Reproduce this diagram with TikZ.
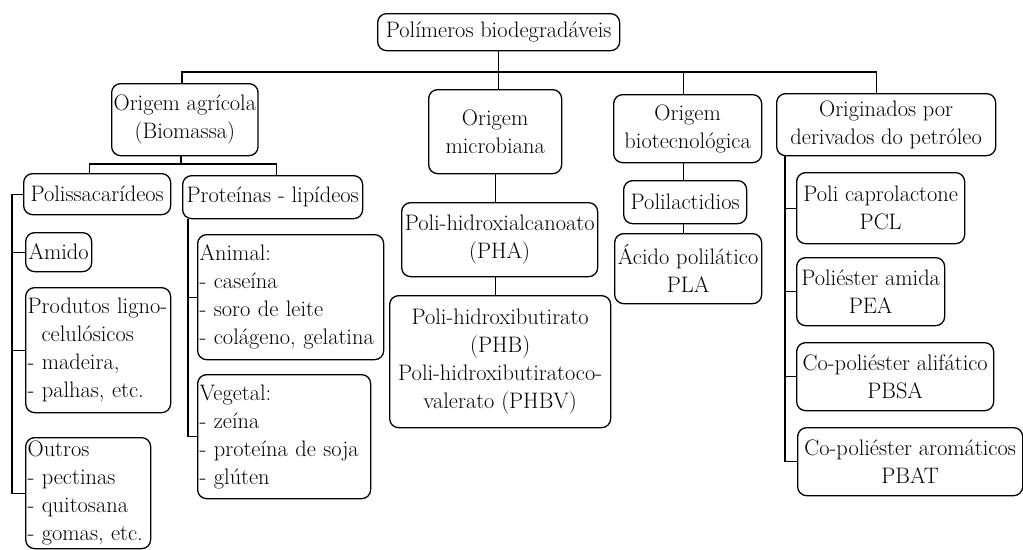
\documentclass[tikz,border=0pt]{standalone}
\tikzset{
  box/.style={draw, rounded corners=9pt, line width=1.3pt, inner xsep=2pt, inner ysep=1pt,
    font=\fontsize{22.4}{28}\selectfont},
  conn/.style={line width=1.3pt}
}
% centred box: fixed outer size, natural lines
\newcommand\cbox[6]{%
  \pgfmathsetmacro\bxw{#4-#2}\pgfmathsetmacro\bxh{#5-#3}%
  \node[box, anchor=north west, minimum width=\bxw pt, minimum height=\bxh pt, align=center] (#1) at (#2,#3) {#6};}
% left-aligned box
\newcommand\lbox[6]{%
  \pgfmathsetmacro\bxw{#4-#2-4}\pgfmathsetmacro\bxh{#5-#3}%
  \node[box, anchor=north west, text width=\bxw pt, minimum height=\bxh pt, align=left] (#1) at (#2,#3) {#6};}
\begin{document}
\begin{tikzpicture}[x=1pt,y=-1pt]
\useasboundingbox (0,0) rectangle (1023,549);
\fill[white] (0,0) rectangle (1023,549);
% top
\cbox{top}{377}{13}{619}{50}{Polímeros biodegradáveis}
% level 1
\cbox{agr}{111}{83}{257}{155}{Origem agrícola\\(Biomassa)}
\cbox{mic}{428}{89}{561}{173}{Origem\\microbiana}
\cbox{bio}{613}{94}{761}{162}{Origem\\biotecnológica}
\cbox{pet}{776}{93}{995}{155}{Originados por\\derivados do petróleo}
% agricola children
\cbox{pol}{23}{173}{170}{214}{Polissacarídeos}
\cbox{prot}{182}{175}{362}{218}{Proteínas - lipídeos}
\cbox{ami}{25}{232}{91}{271}{Amido}
\lbox{lig}{25}{287}{170}{412}{Produtos ligno-\\\hspace*{14pt}celulósicos\\- madeira,\\- palhas, etc.}
\lbox{out}{25}{437}{150}{548}{Outros\\- pectinas\\- quitosana\\- gomas, etc.}
\lbox{ani}{197}{234}{383}{359}{Animal:\\- caseína\\- soro de leite\\- colágeno, gelatina}
\lbox{veg}{197}{374}{370}{498}{Vegetal:\\- zeína\\- proteína de soja\\- glúten}
% microbiana children
\cbox{pha}{401}{202}{597}{276}{Poli-hidroxialcanoato\\(PHA)}
\cbox{phb}{389}{295}{610}{427}{Poli-hidroxibutirato\\(PHB)\\Poli-hidroxibutiratoco-\\valerato (PHBV)}
% bio children
\cbox{plc}{623}{180}{746}{223}{Polilactidios}
\cbox{pla}{614}{233}{761}{303}{Ácido polilático\\PLA}
% petroleo children
\cbox{pcl}{796}{172}{964}{243}{Poli caprolactone\\PCL}
\cbox{pea}{796}{257}{944}{325}{Poliéster amida\\PEA}
\cbox{pbsa}{796}{342}{993}{410}{Co-poliéster alifático\\PBSA}
\cbox{pbat}{797}{427}{1022}{495}{Co-poliéster aromáticos\\PBAT}
% helper coordinates
\coordinate (bar) at (0,72);
\coordinate (bar2) at (0,164);
\coordinate (spA) at (12,0);
\coordinate (spB) at (188,0);
\coordinate (spC) at (785,0);
% connectors level 1
\draw[conn] (top.south) -- (top.south |- mic.north);
\draw[conn] ([xshift=-3pt]agr.north) -- ([xshift=-3pt]agr.north |- bar) -- ([xshift=-9.5pt]pet.north |- bar) -- ([xshift=-9.5pt]pet.north);
\draw[conn] ([xshift=-4pt]bio.north) -- ([xshift=-4pt]bio.north |- bar);
% agricola
\draw[conn] ([xshift=-4pt]agr.south) -- ([xshift=-4pt]agr.south |- bar2);
\draw[conn] ([xshift=-7.5pt]pol.north) -- ([xshift=-7.5pt]pol.north |- bar2) -- ([xshift=4pt]prot.north |- bar2) -- ([xshift=4pt]prot.north);
\draw[conn] (pol.west) -- (pol.west -| spA) -- (spA |- out.west) -- (out.west);
\draw[conn] (spA |- ami.west) -- (ami.west);
\draw[conn] (spA |- lig.west) -- (lig.west);
\draw[conn] (prot.south -| spB) -- (spB |- veg.west) -- (veg.west);
\draw[conn] (spB |- ani.west) -- (ani.west);
% microbiana
\draw[conn] (mic.south) -- (mic.south |- pha.north);
\draw[conn] (mic.south |- pha.south) -- (mic.south |- phb.north);
% bio
\draw[conn] ([xshift=-4pt]bio.south) -- ([xshift=-4pt]bio.south |- plc.north);
\draw[conn] ([xshift=-4pt]bio.south |- plc.south) -- ([xshift=-4pt]bio.south |- pla.north);
% petroleo
\draw[conn] (pet.south -| spC) -- (spC |- pbat.west) -- (pbat.west);
\draw[conn] (spC |- pcl.west) -- (pcl.west);
\draw[conn] (spC |- pea.west) -- (pea.west);
\draw[conn] (spC |- pbsa.west) -- (pbsa.west);
\end{tikzpicture}
\end{document}
